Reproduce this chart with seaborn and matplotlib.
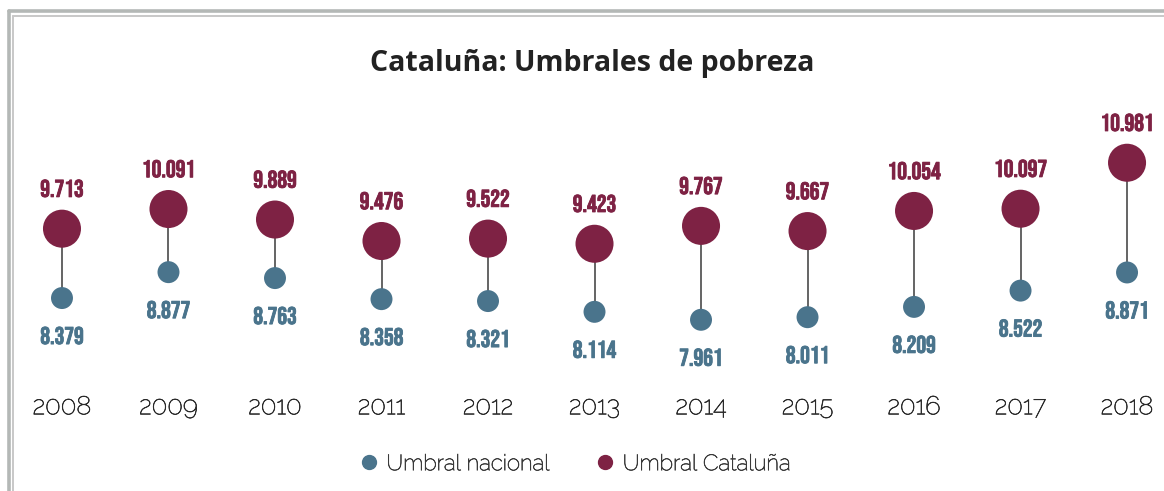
import matplotlib
matplotlib.use("Agg")
import matplotlib.pyplot as plt
import matplotlib.patheffects as pe
from matplotlib.lines import Line2D
import seaborn as sns
import pandas as pd
import logging
logging.getLogger("matplotlib.font_manager").setLevel(logging.ERROR)

years = [2008, 2009, 2010, 2011, 2012, 2013, 2014, 2015, 2016, 2017, 2018]
umbral_cataluna = [9.713, 10.091, 9.889, 9.476, 9.522, 9.423, 9.767, 9.667, 10.054, 10.097, 10.981]
umbral_nacional = [8.379, 8.877, 8.763, 8.358, 8.321, 8.114, 7.961, 8.011, 8.209, 8.522, 8.871]
cat_labels = ["9.713", "10.091", "9.889", "9.476", "9.522", "9.423", "9.767", "9.667", "10.054", "10.097", "10.981"]
nac_labels = ["8.379", "8.877", "8.763", "8.358", "8.321", "8.114", "7.961", "8.011", "8.209", "8.522", "8.871"]
title = "Cataluña: Umbrales de pobreza"
legend_names = ["Umbral nacional", "Umbral Cataluña"]

MAROON = "#7e2244"
BLUE = "#4a748c"
LABEL_FONT = ["Bebas Neue", "Oswald", "Roboto Condensed", "DejaVu Sans"]
BODY_FONT = ["Raleway", "Lato", "DejaVu Sans"]
TITLE_FONT = ["Open Sans", "Lato", "DejaVu Sans"]

sns.set_theme(style="white")
plt.rcParams["font.family"] = BODY_FONT

df = pd.DataFrame({"year": years, "cat": umbral_cataluna, "nac": umbral_nacional})

fig = plt.figure(figsize=(11.64, 4.91), dpi=100)
ax = fig.add_axes([0, 111 / 491, 1, 260 / 491])

ax.vlines(df["year"], df["nac"], df["cat"], color="#3a3a3a", linewidth=1.1, zorder=1)
sns.scatterplot(data=df, x="year", y="nac", s=250, color=BLUE, edgecolor="none",
                ax=ax, zorder=3, legend=False)
sns.scatterplot(data=df, x="year", y="cat", s=750, color=MAROON, edgecolor="none",
                ax=ax, zorder=3, legend=False)

for x, v, t in zip(years, umbral_cataluna, cat_labels):
    ax.annotate(t, (x, v), xytext=(0, 29), textcoords="offset points", ha="center",
                va="center", color=MAROON, fontsize=17.5, fontweight="bold", family=LABEL_FONT,
                path_effects=[pe.withStroke(linewidth=0.6, foreground=MAROON)])
for x, v, t in zip(years, umbral_nacional, nac_labels):
    ax.annotate(t, (x, v), xytext=(0, -27), textcoords="offset points", ha="center",
                va="center", color=BLUE, fontsize=17.5, fontweight="bold", family=LABEL_FONT,
                path_effects=[pe.withStroke(linewidth=0.6, foreground=BLUE)])

ax.set_xlim(2007.418, 2018.347)
ax.set_ylim(6.803, 11.803)
ax.set_xticks(years)
ax.set_xticklabels([str(y) for y in years], fontsize=18.5, color="#2a2a2a",
                   fontweight="normal", family=BODY_FONT)
for lbl in ax.get_xticklabels():
    lbl.set_path_effects([pe.withStroke(linewidth=0.45, foreground="#2a2a2a")])
ax.tick_params(axis="x", length=0, pad=11)
ax.set_yticks([])
ax.set_xlabel("")
ax.set_ylabel("")
for s in ax.spines.values():
    s.set_visible(False)
ax.patch.set_alpha(0)

fig.text(592 / 1164, 1 - 64 / 491, title, ha="center", va="center", fontsize=20.5,
         fontweight="bold", color="#222222", family=TITLE_FONT)

handles = [Line2D([], [], marker="o", linestyle="none", markersize=10, color=BLUE),
           Line2D([], [], marker="o", linestyle="none", markersize=10, color=MAROON)]
leg = fig.legend(handles, legend_names, loc="center", bbox_to_anchor=(574 / 1164, 1 - 464 / 491),
                 ncol=2, frameon=False, handlelength=1.0, handletextpad=0.3,
                 columnspacing=2.0, prop={"size": 16, "weight": "normal", "family": BODY_FONT})
for t in leg.get_texts():
    t.set_color("#3a3a3a")
    t.set_path_effects([pe.withStroke(linewidth=0.45, foreground="#3a3a3a")])

# decorative double frame (top and left)
H = 491.0
W = 1164.0
fig.add_artist(Line2D([8.5 / W, 1], [1 - 10.5 / H, 1 - 10.5 / H], transform=fig.transFigure,
                      color="#b4b8b6", linewidth=2.6))
fig.add_artist(Line2D([8.8 / W, 8.8 / W], [0, 1 - 10.5 / H], transform=fig.transFigure,
                      color="#b4b8b6", linewidth=2.6))
fig.add_artist(Line2D([13.3 / W, 1], [1 - 15.5 / H, 1 - 15.5 / H], transform=fig.transFigure,
                      color="#c8c8c8", linewidth=1.4))
fig.add_artist(Line2D([13.3 / W, 13.3 / W], [0, 1 - 15.5 / H], transform=fig.transFigure,
                      color="#c8c8c8", linewidth=1.4))

fig.savefig("out.png", dpi=100, facecolor="white")
